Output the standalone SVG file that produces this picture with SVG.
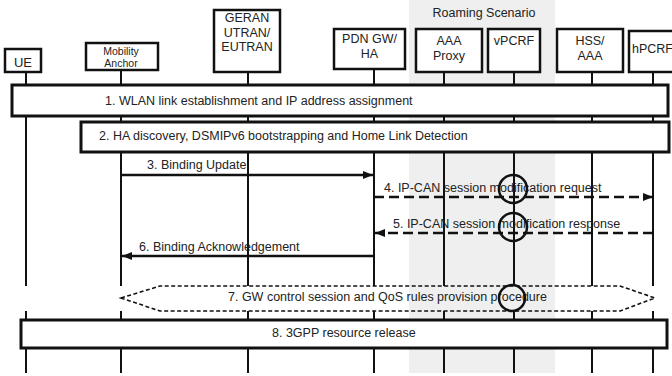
<svg xmlns="http://www.w3.org/2000/svg" width="672" height="376" viewBox="0 0 672 376">
<defs>
<style>
text{font-family:"Liberation Sans",Arial,sans-serif;font-size:12.5px;fill:#222}
.node rect{fill:#fff;stroke:#111;stroke-width:2.5}
.bar rect{fill:#fff;stroke:#111;stroke-width:3}
.ll{stroke:#111;stroke-width:2;fill:none}
.msg{stroke:#111;stroke-width:2.5;fill:none}
.dash{stroke-dasharray:10 5}
.proc{stroke:#111;stroke-width:1.6;fill:none;stroke-dasharray:4 2.5}
.mark{stroke:#111;stroke-width:2.5;fill:none}
.c{text-anchor:middle}
</style>
<marker id="ah" viewBox="0 0 10 8" refX="10" refY="4" markerWidth="10" markerHeight="8" markerUnits="userSpaceOnUse" orient="auto">
<path d="M0,0 L10,4 L0,8 z" fill="#111"/>
</marker>
</defs>
<rect x="409" y="0" width="146" height="373" fill="#eeefee"/>
<text x="484" y="17" class="c">Roaming Scenario</text>
<g id="lifelines">
<path class="ll" d="M26,72V286M26,311V373M121,70V286M121,311V373M248,72V286M248,311V373M374,69V286M374,311V373M444,72V286M444,311V373M514,72V286M514,311V373M592,72V286M592,311V373M653,72V286M653,311V373"/>
</g>
<g id="node-ue" class="node"><rect x="5" y="49" width="36" height="23"/><text x="23" y="67" class="c" style="font-size:13px">UE</text></g>
<g id="node-ma" class="node"><rect x="86" y="43" width="72" height="27"/><text x="121" y="55" class="c" style="font-size:10.5px">Mobility</text><text x="121" y="67" class="c" style="font-size:10.5px">Anchor</text></g>
<g id="node-geran" class="node"><rect x="214" y="10" width="66" height="62"/><text x="247" y="22" class="c">GERAN</text><text x="247" y="37" class="c">UTRAN/</text><text x="247" y="51" class="c">EUTRAN</text></g>
<g id="node-pdn" class="node"><rect x="334" y="29" width="71" height="40"/><text x="369.5" y="43" class="c">PDN GW/</text><text x="369.5" y="58" class="c">HA</text></g>
<g id="node-aaaproxy" class="node"><rect x="416" y="29" width="66" height="43"/><text x="449" y="45" class="c">AAA</text><text x="449" y="60" class="c">Proxy</text></g>
<g id="node-vpcrf" class="node"><rect x="488" y="29" width="52" height="43"/><text x="514" y="45" class="c">vPCRF</text></g>
<g id="node-hss" class="node"><rect x="557" y="29" width="66" height="43"/><text x="590" y="45" class="c">HSS/</text><text x="590" y="60" class="c">AAA</text></g>
<g id="node-hpcrf" class="node"><rect x="629" y="31" width="50" height="41"/><text x="632" y="53">hPCRF</text></g>
<g id="step1" class="bar"><rect x="12" y="85" width="656" height="31"/><text x="105" y="105">1. WLAN link establishment and IP address assignment</text></g>
<g id="step2" class="bar"><rect x="81" y="122" width="588" height="30"/><text x="99" y="140">2. HA discovery, DSMIPv6 bootstrapping and Home Link Detection</text></g>
<g id="step8" class="bar"><rect x="21" y="320" width="646" height="28"/><text x="272" y="337">8. 3GPP resource release</text></g>
<g id="connectors">
<path class="msg" d="M121,175H373" marker-end="url(#ah)"/>
<text x="147" y="169">3. Binding Update</text>
<path class="msg dash" d="M374,197H653" marker-end="url(#ah)"/>
<text x="384" y="192">4. IP-CAN session modification request</text>
<path class="msg dash" d="M653,233H375" marker-end="url(#ah)"/>
<text x="393" y="228">5. IP-CAN session modification response</text>
<path class="msg" d="M374,256H122" marker-end="url(#ah)"/>
<text x="139" y="251">6. Binding Acknowledgement</text>
<path class="proc" d="M121,298L160,286H620L655,298L620,311H160Z"/>
<text x="228" y="301">7. GW control session and QoS rules provision procedure</text>
<circle class="mark" cx="513" cy="189" r="14"/>
<circle class="mark" cx="513" cy="227" r="14"/>
<circle class="mark" cx="512" cy="298" r="13"/>
</g>
</svg>
